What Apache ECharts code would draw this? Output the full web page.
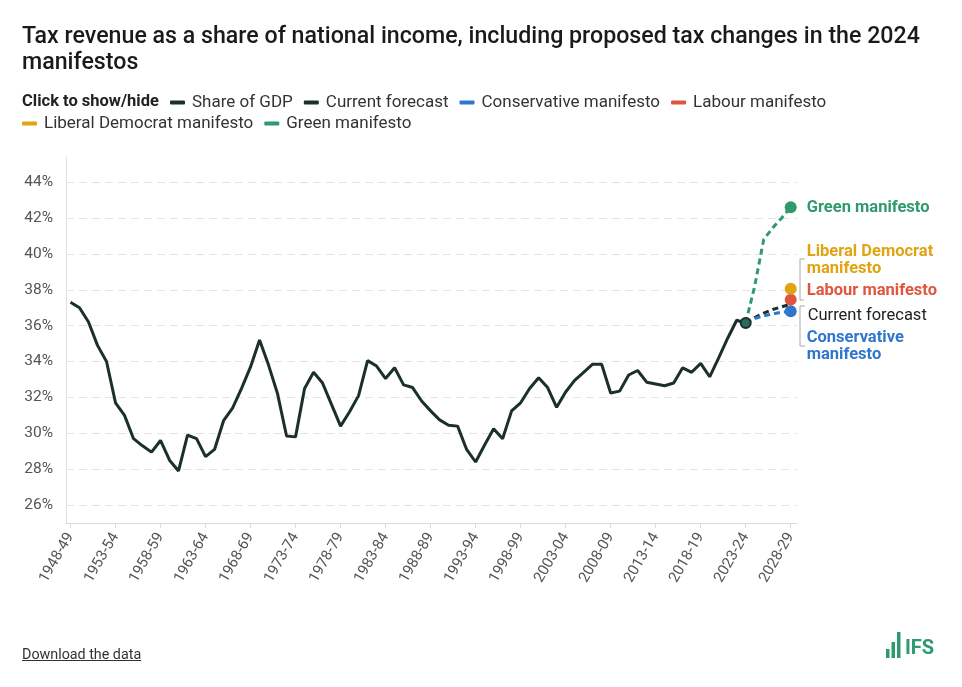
<!DOCTYPE html>
<html>
<head>
<meta charset="utf-8">
<script src="https://cdn.jsdelivr.net/npm/echarts@6/dist/echarts.min.js"></script>
<style>
  html, body { margin: 0; padding: 0; background: #fff; }
  #chart { width: 962px; height: 687px; position: absolute; left: 0; top: 0; }
  #dl { position: absolute; left: 22px; top: 646px; font-family: Roboto, sans-serif; font-size: 14.3px; color: #333; text-decoration: underline; }
</style>
</head>
<body>
<div id="chart"></div>
<div id="dl">Download the data</div>
<script>
// ---- data ----
const categories = ['1948-49','1949-50','1950-51','1951-52','1952-53','1953-54','1954-55','1955-56','1956-57','1957-58',
  '1958-59','1959-60','1960-61','1961-62','1962-63','1963-64','1964-65','1965-66','1966-67','1967-68',
  '1968-69','1969-70','1970-71','1971-72','1972-73','1973-74','1974-75','1975-76','1976-77','1977-78',
  '1978-79','1979-80','1980-81','1981-82','1982-83','1983-84','1984-85','1985-86','1986-87','1987-88',
  '1988-89','1989-90','1990-91','1991-92','1992-93','1993-94','1994-95','1995-96','1996-97','1997-98',
  '1998-99','1999-00','2000-01','2001-02','2002-03','2003-04','2004-05','2005-06','2006-07','2007-08',
  '2008-09','2009-10','2010-11','2011-12','2012-13','2013-14','2014-15','2015-16','2016-17','2017-18',
  '2018-19','2019-20','2020-21','2021-22','2022-23','2023-24'];
const shareOfGdp = [37.3,37.0,36.2,34.9,34.0,31.7,31.0,29.7,29.3,28.95,
  29.6,28.5,27.9,29.9,29.7,28.7,29.1,30.7,31.4,32.5,
  33.7,35.2,33.8,32.2,29.85,29.8,32.5,33.4,32.8,31.6,
  30.4,31.2,32.1,34.05,33.75,33.05,33.65,32.7,32.55,31.8,
  31.25,30.75,30.45,30.4,29.1,28.4,29.35,30.25,29.7,31.25,
  31.7,32.5,33.1,32.55,31.45,32.3,32.95,33.4,33.85,33.85,
  32.25,32.35,33.25,33.5,32.85,32.75,32.65,32.8,33.65,33.4,
  33.9,33.15,34.2,35.3,36.3,36.15];
const forecastCategories = ['2023-24','2024-25','2025-26','2026-27','2027-28','2028-29'];
const currentForecast = [36.15,36.45,36.7,36.9,37.05,37.2];
const conservative = [36.15,36.4,36.55,36.65,36.75,36.8];
const labour = [null,null,null,null,null,37.45];
const libDem = [null,null,null,null,null,38.05];
const green = [36.15,38.2,40.8,41.45,42.0,42.6];
const tickLabels = ['1948-49','1953-54','1958-59','1963-64','1968-69','1973-74','1978-79','1983-84','1988-89',
  '1993-94','1998-99','2003-04','2008-09','2013-14','2018-19','2023-24','2028-29'];
const yTicks = [26,28,30,32,34,36,38,40,42,44];

// ---- build ----
const yr = s => parseInt(s.slice(0, 4), 10);
const toPairs = (cats, vals) => cats.map((c, i) => [yr(c), vals[i]]);
const tickYears = tickLabels.map(yr);
const labelOf = {};
tickLabels.forEach(l => { labelOf[yr(l)] = l; });
const FONT = 'Roboto, sans-serif';
const DARK = '#1b2f2d';
const C_CON = '#2f77cc', C_LAB = '#e2553d', C_LD = '#e0a412', C_GRN = '#2e9a6d';
const lastIdx = forecastCategories.length - 1;
const LBL = 16.5;

function forecastSeries(name, vals, color, labelText, offset, opts) {
  return Object.assign({
    name: name,
    type: 'line',
    data: toPairs(forecastCategories, vals),
    connectNulls: false,
    showAllSymbol: true,
    symbol: 'circle',
    symbolSize: (v, p) => p.dataIndex === lastIdx ? 12 : 0,
    itemStyle: { color: color },
    lineStyle: { color: color, width: 3, type: [6, 4] },
    label: {
      show: true,
      position: 'right',
      distance: 10,
      offset: offset,
      fontFamily: FONT,
      fontSize: LBL,
      fontWeight: 'bold',
      color: color,
      lineHeight: 17,
      formatter: p => p.dataIndex === lastIdx ? labelText : ''
    },
    emphasis: { disabled: true },
    animation: false
  }, opts || {});
}

const legendText = { fontFamily: FONT, fontSize: 17, color: '#333', padding: [0, 0, 0, 2] };
const chart = echarts.init(document.getElementById('chart'), null, { renderer: 'canvas' });
chart.setOption({
  animation: false,
  title: {
    text: 'Tax revenue as a share of national income, including proposed tax changes in the 2024\nmanifestos',
    left: 17, top: 19,
    textStyle: { fontFamily: FONT, fontSize: 23.2, fontWeight: 500, color: '#1a1a1a', lineHeight: 26 }
  },
  legend: [
    {
      left: 165, top: 89,
      itemWidth: 15, itemHeight: 4, itemGap: 11, icon: 'roundRect',
      itemStyle: { borderWidth: 0 },
      data: [{ name: 'Share of GDP', itemStyle: { color: DARK, borderWidth: 0 } }, 'Current forecast', 'Conservative manifesto', 'Labour manifesto'],
      textStyle: legendText
    },
    {
      left: 17, top: 110,
      itemWidth: 15, itemHeight: 4, itemGap: 11, icon: 'roundRect',
      itemStyle: { borderWidth: 0 },
      data: ['Liberal Democrat manifesto', 'Green manifesto'],
      textStyle: legendText
    }
  ],
  grid: { left: 66, right: 165, top: 157, bottom: 164 },
  xAxis: {
    type: 'value', min: 1947.5, max: 2028.7,
    axisLine: { show: true, lineStyle: { color: '#dcdcdc' } },
    axisTick: { show: true, customValues: tickYears, length: 5, lineStyle: { color: '#dcdcdc' } },
    axisLabel: {
      customValues: tickYears, rotate: 60, margin: 11,
      fontFamily: FONT, fontSize: 15, color: '#555',
      formatter: v => labelOf[v] || ''
    },
    splitLine: { show: false }
  },
  yAxis: {
    type: 'value', min: 25, max: 45.4, interval: 1,
    axisLine: { show: true, lineStyle: { color: '#e0e0e0' } },
    axisTick: { show: false },
    axisLabel: {
      margin: 13, fontFamily: FONT, fontSize: 15.5, color: '#555',
      formatter: v => yTicks.indexOf(v) >= 0 ? v + '%' : ''
    },
    splitLine: {
      show: true, showMinLine: false, showMaxLine: false,
      lineStyle: { color: ['#e4e4e4', 'rgba(0,0,0,0)'], type: [8, 5], width: 1 }
    }
  },
  graphic: [
    { type: 'text', left: 22, top: 93, style: { text: 'Click to show/hide', fontFamily: FONT, fontSize: 16.5, fontWeight: 'bold', fill: '#222' } },
    { type: 'polyline', shape: { points: [[805, 259], [800, 259], [800, 300], [804, 300]] }, style: { stroke: '#aaa', lineWidth: 1, fill: null }, silent: true },
    { type: 'polyline', shape: { points: [[805, 306], [800, 306], [800, 346], [805, 346]] }, style: { stroke: '#aaa', lineWidth: 1, fill: null }, silent: true },
    { type: 'rect', shape: { x: 886, y: 649, width: 3.5, height: 9 }, style: { fill: C_GRN } },
    { type: 'rect', shape: { x: 891.5, y: 642, width: 3.5, height: 16 }, style: { fill: C_GRN } },
    { type: 'rect', shape: { x: 897, y: 632, width: 3.5, height: 26 }, style: { fill: C_GRN } },
    { type: 'text', left: 905, top: 639, style: { text: 'IFS', fontFamily: FONT, fontSize: 20, fontWeight: 'bold', fill: C_GRN } }
  ],
  series: [
    forecastSeries('Green manifesto', green, C_GRN, 'Green manifesto', [0, 1], { z: 2 }),
    forecastSeries('Current forecast', currentForecast, DARK, 'Current forecast', [0, 12], {
      z: 3, symbolSize: 0,
      label: { show: true, position: 'right', distance: 17, offset: [0, 12], fontFamily: FONT, fontSize: LBL, color: '#222',
        formatter: p => p.dataIndex === lastIdx ? 'Current forecast' : '' }
    }),
    forecastSeries('Conservative manifesto', conservative, C_CON, 'Conservative\nmanifesto', [0, 35], { z: 4 }),
    forecastSeries('Labour manifesto', labour, C_LAB, 'Labour manifesto', [0, -9], { z: 5 }),
    forecastSeries('Liberal Democrat manifesto', libDem, C_LD, 'Liberal Democrat\nmanifesto', [0, -28], { z: 5 }),
    {
      name: 'Share of GDP',
      type: 'line',
      z: 6,
      data: toPairs(categories, shareOfGdp),
      showAllSymbol: true,
      symbol: 'circle',
      symbolSize: (v, p) => p.dataIndex === categories.length - 1 ? 10 : 0,
      itemStyle: { color: '#2b6b5c', borderColor: DARK, borderWidth: 2 },
      lineStyle: { color: DARK, width: 3 },
      emphasis: { disabled: true }
    }
  ]
});
</script>
</body>
</html>
